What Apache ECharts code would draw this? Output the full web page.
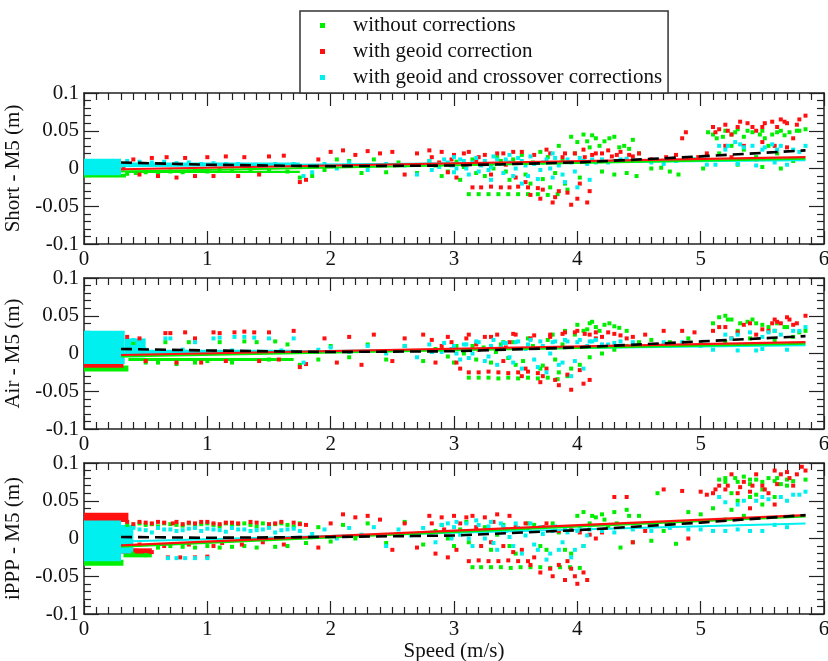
<!DOCTYPE html>
<html>
<head>
<meta charset="utf-8">
<script src="https://cdn.jsdelivr.net/npm/echarts@6/dist/echarts.min.js"></script>
<style>
  html, body { margin: 0; padding: 0; background: #fff; }
  #chart { width: 828px; height: 661px; }
</style>
</head>
<body>
<div id="chart"></div>
<script>
// names
var seriesNames = ['without corrections', 'with geoid correction', 'with geoid and crossover corrections'];
var panelNames = ['Short - M5 (m)', 'Air - M5 (m)', 'iPPP - M5 (m)'];

// ---- Short - M5 ----
var shortGreen = [[0.35,-0.007],[0.42,-0.006],[0.5,-0.005],[0.6,-0.006],[0.7,-0.004],[0.8,-0.005],[0.9,-0.003],[1.0,-0.004],[1.1,-0.002],[1.2,-0.003],[1.35,-0.002],[1.5,-0.003],[1.65,-0.004],[1.75,-0.012],[1.85,-0.01],[1.95,-0.002],[2.05,0.012],[2.15,0.01],[2.25,-0.006],[2.35,0.012],[2.45,-0.005],[2.55,0.008],[2.7,-0.006],[2.8,0.01],[2.9,-0.01],[3.0,0.006],[3.05,-0.015],[3.12,-0.034],[3.2,-0.034],[3.28,-0.034],[3.36,-0.034],[3.44,-0.034],[3.52,-0.034],[3.6,-0.034],[3.68,-0.034],[3.76,-0.035],[3.84,-0.034],[3.15,0.012],[3.25,-0.01],[3.35,0.015],[3.45,-0.015],[3.55,0.018],[3.62,-0.02],[3.7,0.022],[3.78,-0.025],[3.85,0.03],[3.9,-0.02],[3.95,0.042],[4.0,0.035],[4.05,0.045],[4.1,0.028],[4.15,0.04],[4.22,0.036],[4.3,0.042],[4.38,0.03],[4.45,0.038],[4.5,0.02],[4.2,-0.004],[4.3,-0.008],[4.4,-0.006],[4.48,-0.01],[4.6,0.0],[4.68,0.001],[4.75,-0.004],[4.82,-0.008],[4.95,0.012],[5.02,0.0],[5.06,0.048],[5.13,0.04],[5.2,0.05],[5.25,0.045],[5.3,0.052],[5.35,0.042],[5.42,0.048],[5.5,0.05],[5.58,0.045],[5.65,0.05],[5.72,0.048],[5.8,0.05],[5.85,0.052],[5.15,0.02],[5.25,0.03],[5.35,0.025],[5.45,0.015],[5.55,0.03],[5.62,0.02],[5.3,0.005],[5.5,0.002],[5.65,0.0],[5.75,0.01],
  [2.85,0.004],[2.95,-0.004],[3.02,0.009],[3.08,0.002],[3.18,-0.006],[3.22,0.006],[3.32,0.0],[3.38,0.01],[3.42,-0.004],[3.48,0.012],[3.58,-0.008],[3.64,0.008],[3.72,-0.014],[3.76,0.015],[3.82,-0.006],[3.88,0.01],[3.92,-0.028],[3.98,0.02],[4.02,-0.012],[4.08,0.036],[4.12,0.044],[4.18,0.03],[4.26,0.04],[4.34,0.028],[4.42,0.026],[5.1,0.045],[5.18,0.042],[5.28,0.048],[5.38,0.05],[5.48,0.045],[5.52,0.04],[5.62,0.048],[5.68,0.044],[5.78,0.05]];
var shortRed = [[0.32,0.0],[0.4,0.012],[0.45,-0.008],[0.55,0.014],[0.6,-0.01],[0.67,0.015],[0.75,-0.012],[0.82,0.014],[0.9,-0.01],[1.0,0.015],[1.05,-0.01],[1.15,0.016],[1.25,-0.01],[1.3,0.015],[1.42,-0.008],[1.5,0.016],[1.62,0.017],[1.75,-0.018],[1.8,-0.015],[1.9,0.012],[2.0,0.022],[2.1,0.024],[2.2,0.018],[2.3,0.023],[2.4,0.02],[2.5,0.022],[2.6,-0.008],[2.7,0.02],[2.8,0.024],[2.9,0.022],[2.95,-0.005],[3.0,0.018],[3.08,0.02],[3.15,-0.025],[3.22,-0.025],[3.3,-0.024],[3.38,-0.025],[3.45,-0.025],[3.52,-0.024],[3.6,-0.025],[3.68,-0.026],[3.1,0.005],[3.2,0.015],[3.3,-0.008],[3.4,0.02],[3.5,-0.012],[3.55,0.022],[3.62,-0.035],[3.7,-0.04],[3.75,0.025],[3.8,-0.045],[3.85,-0.03],[3.9,0.02],[3.95,-0.048],[4.0,-0.04],[4.05,0.025],[4.08,-0.045],[4.12,0.018],[4.2,0.02],[4.28,0.016],[4.35,0.022],[4.42,0.018],[4.5,0.02],[4.6,0.012],[4.72,0.015],[4.8,0.018],[4.85,0.04],[4.88,0.048],[4.98,0.015],[5.05,0.02],[5.1,0.055],[5.15,0.052],[5.2,0.058],[5.25,0.045],[5.3,0.055],[5.38,0.06],[5.45,0.05],[5.5,0.055],[5.58,0.062],[5.65,0.065],[5.7,0.06],[5.75,0.04],[5.8,0.065],[5.85,0.07],[5.2,0.03],[5.35,0.03],[5.5,0.035],[5.6,0.03],[5.7,0.028],[5.25,0.015],[5.45,0.012],
  [2.82,0.015],[2.88,0.008],[2.98,0.012],[3.02,-0.012],[3.12,0.022],[3.18,0.01],[3.25,0.018],[3.35,0.02],[3.42,0.005],[3.48,0.022],[3.58,-0.018],[3.65,0.018],[3.72,-0.028],[3.78,0.02],[3.82,-0.038],[3.88,0.015],[3.92,-0.032],[3.98,0.02],[4.02,-0.02],[4.06,0.015],[4.1,-0.03],[4.15,0.02],[4.25,0.024],[4.32,0.018],[4.45,0.016],[5.12,0.048],[5.22,0.05],[5.32,0.062],[5.42,0.055],[5.52,0.06],[5.62,0.055],[5.68,0.062],[5.78,0.058]];
var shortCyan = [[0.35,0.01],[0.45,0.009],[0.55,0.008],[0.65,0.009],[0.75,0.007],[0.85,0.008],[0.95,0.006],[1.05,0.007],[1.15,0.006],[1.25,0.006],[1.4,0.005],[1.55,0.006],[1.7,0.006],[1.78,-0.01],[1.85,-0.005],[1.95,0.006],[2.05,0.0],[2.15,0.008],[2.3,-0.002],[2.45,0.006],[2.6,0.004],[2.7,-0.008],[2.8,0.01],[2.88,0.002],[2.95,0.008],[3.0,-0.005],[3.05,0.012],[3.1,0.0],[3.15,0.008],[3.2,-0.004],[3.25,0.01],[3.3,0.002],[3.35,0.012],[3.4,-0.006],[3.45,0.008],[3.5,0.0],[3.55,0.01],[3.6,-0.01],[3.65,0.006],[3.7,-0.002],[3.75,0.012],[3.8,-0.012],[3.85,0.004],[3.9,-0.018],[3.95,0.008],[4.0,-0.025],[4.05,0.01],[4.1,-0.015],[4.15,0.008],[4.2,0.012],[4.3,0.01],[4.4,0.013],[4.5,0.01],[4.6,0.008],[4.7,0.006],[4.8,0.01],[4.95,0.012],[5.05,0.005],[5.15,0.03],[5.2,0.025],[5.28,0.035],[5.35,0.028],[5.42,0.03],[5.5,0.025],[5.58,0.032],[5.65,0.03],[5.75,0.025],[5.85,0.03],[5.12,0.005],[5.3,0.006],[5.45,0.004],[5.6,0.008],[5.7,0.005],[3.3,-0.015],[3.55,-0.02],[3.8,0.02],[3.0,0.015],[3.45,0.018],
  [2.82,-0.002],[2.92,0.012],[2.98,0.004],[3.02,0.0],[3.08,0.01],[3.12,-0.008],[3.18,0.014],[3.22,0.004],[3.28,-0.002],[3.32,0.016],[3.38,0.006],[3.42,0.012],[3.48,-0.01],[3.52,0.014],[3.58,0.004],[3.62,0.016],[3.68,-0.014],[3.72,0.008],[3.78,0.0],[3.82,0.014],[3.88,-0.008],[3.92,0.012],[3.98,-0.004],[4.02,0.014],[4.08,0.006],[4.12,0.012],[4.25,0.008],[4.35,0.012],[4.45,0.01],[5.22,0.03],[5.32,0.032],[5.52,0.028],[5.62,0.025],[5.8,0.022]];
// dense blocks: [x0, x1, y0, y1]
var shortGreenBand = [[0, 0.34, -0.012, -0.007], [0.34, 1.75, -0.006, -0.003]];
var shortRedBand = [[0, 0.3, -0.004, 0.001]];
var shortCyanBand = [[0, 0.3, -0.009, 0.013], [0.3, 1.75, 0.004, 0.008]];
// fitted lines
var shortFitGreen = [[0.3,-0.004],[5.85,0.013]];
var shortFitRed = [[0.3,-0.001],[5.85,0.015]];
var shortFitCyan = [[0.3,0.003],[5.85,0.011]];
var shortFitDashed = [[0.3,0.008],[1,0.005],[2,0.003],[3,0.004],[4,0.008],[5,0.016],[5.85,0.024]];

// ---- Air - M5 ----
var airGreen = [[0.4,0.014],[0.5,-0.012],[0.6,-0.012],[0.66,0.015],[0.75,-0.014],[0.85,0.015],[0.9,-0.012],[1.0,-0.01],[1.1,0.015],[1.2,-0.012],[1.3,0.016],[1.4,0.015],[1.5,-0.008],[1.55,0.016],[1.65,0.012],[1.75,-0.015],[1.9,-0.008],[2.0,0.01],[2.15,-0.005],[2.3,0.012],[2.45,-0.008],[2.6,0.01],[2.75,-0.01],[2.9,0.005],[3.0,-0.012],[3.12,-0.032],[3.2,-0.032],[3.28,-0.032],[3.36,-0.033],[3.44,-0.032],[3.52,-0.033],[3.6,-0.032],[3.68,-0.033],[3.76,-0.032],[3.84,-0.034],[3.15,0.01],[3.3,-0.012],[3.4,0.015],[3.5,-0.015],[3.6,0.02],[3.7,-0.02],[3.8,0.025],[3.85,-0.025],[3.9,0.03],[3.95,-0.02],[4.0,0.038],[4.05,0.03],[4.1,0.04],[4.15,0.035],[4.22,0.038],[4.3,0.036],[4.1,-0.005],[4.2,0.0],[4.3,0.005],[4.4,0.01],[4.5,0.015],[4.6,0.018],[4.75,0.015],[4.9,0.02],[5.0,0.012],[5.1,0.04],[5.2,0.05],[5.25,0.045],[5.3,0.03],[5.38,0.042],[5.45,0.04],[5.55,0.035],[5.6,0.03],[5.7,0.035],[5.8,0.028],[5.85,0.03],[5.2,0.015],[5.4,0.02],[5.6,0.018],[5.75,0.022],
  [2.85,0.006],[2.95,-0.004],[3.02,0.01],[3.08,0.0],[3.18,-0.008],[3.24,0.008],[3.34,0.002],[3.38,0.012],[3.44,-0.006],[3.48,0.015],[3.56,-0.01],[3.64,0.01],[3.72,-0.016],[3.76,0.018],[3.82,-0.008],[3.88,0.012],[3.92,-0.03],[3.98,0.025],[4.02,-0.015],[4.08,0.032],[4.12,0.042],[4.18,0.03],[4.26,0.04],[4.34,0.034],[4.4,0.03],[5.15,0.048],[5.22,0.045],[5.32,0.04],[5.42,0.045],[5.5,0.038],[5.62,0.04],[5.68,0.035]];
var airRed = [[0.35,0.022],[0.45,0.02],[0.5,-0.01],[0.66,0.027],[0.7,0.027],[0.75,-0.012],[0.82,0.028],[0.9,0.02],[0.95,-0.012],[1.05,0.028],[1.1,0.027],[1.15,-0.01],[1.22,0.028],[1.3,0.029],[1.38,0.028],[1.42,-0.01],[1.5,0.028],[1.58,-0.008],[1.7,0.03],[1.75,-0.018],[1.8,-0.014],[1.95,0.02],[2.05,-0.012],[2.15,0.022],[2.25,-0.015],[2.35,0.025],[2.5,-0.01],[2.6,0.02],[2.75,0.025],[2.85,-0.012],[2.95,0.022],[3.05,-0.02],[3.12,-0.025],[3.2,-0.025],[3.28,-0.024],[3.36,-0.025],[3.44,-0.026],[3.52,-0.025],[3.6,-0.024],[3.68,-0.026],[3.1,0.02],[3.2,0.005],[3.3,0.022],[3.4,-0.01],[3.5,0.025],[3.55,-0.03],[3.62,0.02],[3.7,-0.038],[3.78,0.025],[3.85,-0.042],[3.9,0.028],[3.95,-0.048],[4.0,0.03],[4.05,-0.04],[4.1,0.025],[4.15,0.028],[4.2,0.022],[4.3,0.026],[4.4,0.02],[4.55,0.025],[4.7,0.03],[4.85,0.03],[4.95,0.028],[5.1,0.03],[5.2,0.035],[5.3,0.028],[5.4,0.04],[5.5,0.032],[5.6,0.045],[5.65,0.04],[5.7,0.048],[5.75,0.038],[5.85,0.05],[5.25,0.02],[5.45,0.025],[5.55,0.03],[3.45,0.015],[3.75,-0.02],
  [2.82,0.018],[2.9,0.01],[2.98,0.015],[3.02,-0.012],[3.12,0.025],[3.18,0.012],[3.25,0.022],[3.35,0.025],[3.42,0.008],[3.48,0.026],[3.58,-0.02],[3.65,0.024],[3.72,-0.03],[3.78,0.022],[3.82,-0.035],[3.88,0.026],[3.92,-0.028],[3.98,0.028],[4.02,-0.022],[4.06,0.026],[4.1,-0.035],[4.15,0.02],[4.25,0.028],[4.35,0.024],[4.45,0.022],[5.15,0.035],[5.35,0.038],[5.58,0.04],[5.62,0.042],[5.72,0.045],[5.78,0.04]];
var airCyan = [[0.4,0.018],[0.5,0.005],[0.66,0.02],[0.7,0.02],[0.8,0.005],[0.9,0.015],[1.05,0.02],[1.1,0.021],[1.2,0.004],[1.22,0.022],[1.3,0.022],[1.38,0.021],[1.5,0.02],[1.6,0.004],[1.7,0.02],[1.78,-0.012],[1.9,0.005],[2.0,0.008],[2.15,0.002],[2.3,0.01],[2.45,0.0],[2.6,0.01],[2.7,-0.005],[2.8,0.012],[2.9,0.002],[3.0,0.01],[3.05,-0.008],[3.1,0.012],[3.15,0.0],[3.2,0.015],[3.25,-0.01],[3.3,0.01],[3.35,-0.015],[3.4,0.014],[3.45,-0.005],[3.5,0.015],[3.55,-0.02],[3.6,0.012],[3.65,-0.008],[3.7,0.016],[3.75,-0.025],[3.8,0.015],[3.85,-0.015],[3.9,0.018],[3.95,-0.03],[4.0,0.015],[4.05,-0.02],[4.1,0.016],[4.15,0.018],[4.2,0.012],[4.3,0.014],[4.45,0.015],[4.7,0.015],[4.85,0.015],[5.0,0.01],[5.1,0.005],[5.2,0.025],[5.3,0.004],[5.4,0.028],[5.5,0.006],[5.6,0.03],[5.7,0.005],[5.8,0.03],[5.85,0.035],[5.25,0.02],[5.5,0.022],[5.65,0.025],[5.45,0.004],
  [2.82,0.002],[2.92,0.014],[2.98,0.006],[3.02,0.0],[3.08,0.012],[3.12,-0.006],[3.18,0.016],[3.22,0.006],[3.28,-0.004],[3.32,0.018],[3.38,0.008],[3.42,0.014],[3.48,-0.012],[3.52,0.016],[3.58,0.006],[3.62,0.018],[3.68,-0.018],[3.72,0.01],[3.78,0.0],[3.82,0.016],[3.88,-0.012],[3.92,0.016],[3.98,-0.01],[4.02,0.018],[4.08,0.01],[4.12,0.016],[4.25,0.012],[4.35,0.016],[5.3,0.025],[5.55,0.028],[5.75,0.03]];
var airGreenBand = [[0, 0.36, -0.024, -0.016], [0.36, 1.7, -0.01, -0.006]];
var airRedBand = [[0, 0.32, -0.019, -0.013]];
var airCyanBand = [[0, 0.33, -0.014, 0.03], [0.33, 0.5, -0.005, 0.02], [0.5, 1.7, 0.001, 0.005]];
var airFitGreen = [[0.3,-0.004],[5.85,0.013]];
var airFitRed = [[0.3,-0.002],[5.85,0.015]];
var airFitCyan = [[0.3,0.0],[5.85,0.011]];
var airFitDashed = [[0.3,0.006],[1,0.004],[2,0.002],[3,0.003],[4,0.008],[5,0.016],[5.85,0.023]];

// ---- iPPP - M5 ----
var ipppGreen = [[0.35,0.018],[0.45,0.02],[0.55,0.019],[0.65,0.02],[0.75,0.018],[0.85,0.02],[0.95,0.019],[1.05,0.018],[1.15,0.02],[1.25,0.019],[1.35,0.018],[1.45,0.02],[1.55,0.019],[1.65,0.018],[1.75,0.02],[0.4,-0.02],[0.5,-0.022],[0.6,-0.012],[0.7,-0.01],[0.8,-0.011],[0.9,-0.012],[1.0,-0.01],[1.1,-0.012],[1.2,-0.011],[1.3,-0.01],[1.4,-0.012],[1.55,-0.011],[1.65,-0.01],[1.8,-0.006],[1.9,0.015],[2.0,-0.004],[2.1,0.018],[2.2,0.0],[2.3,0.02],[2.45,-0.006],[2.6,0.022],[2.75,-0.008],[2.9,0.018],[3.0,-0.01],[3.1,0.022],[3.15,-0.038],[3.22,-0.038],[3.3,-0.038],[3.38,-0.038],[3.46,-0.039],[3.54,-0.038],[3.62,-0.038],[3.7,-0.038],[3.78,-0.039],[3.86,-0.038],[3.94,-0.038],[4.02,-0.039],[3.2,0.01],[3.3,-0.015],[3.4,0.018],[3.5,-0.02],[3.6,0.02],[3.7,-0.01],[3.8,0.02],[3.9,-0.015],[4.0,0.03],[4.05,0.035],[4.1,0.02],[4.15,0.028],[4.2,0.032],[4.25,0.015],[4.3,0.035],[4.35,-0.012],[4.4,0.038],[4.45,-0.005],[4.5,0.03],[4.6,-0.003],[4.7,0.01],[4.8,-0.007],[4.9,0.035],[5.0,0.032],[5.1,0.04],[5.15,0.078],[5.2,0.08],[5.25,0.038],[5.3,0.075],[5.35,0.082],[5.4,0.072],[5.45,0.078],[5.5,0.065],[5.55,0.08],[5.6,0.076],[5.65,0.072],[5.7,0.078],[5.75,0.076],[5.85,0.078],[5.3,0.05],[5.4,0.055],[5.5,0.045],[5.6,0.055],[5.2,0.025],[4.65,0.06],
  [0.4,0.016],[0.5,0.018],[0.6,0.016],[0.7,0.019],[0.8,0.017],[0.9,0.016],[1.0,0.02],[1.1,0.016],[1.2,0.018],[1.3,0.02],[1.4,0.016],[1.5,0.018],[1.6,0.02],[1.7,0.016],[2.85,0.01],[2.95,0.0],[3.05,0.012],[3.12,-0.005],[3.25,0.015],[3.35,0.005],[3.45,-0.01],[3.55,0.012],[3.65,0.018],[3.75,-0.015],[3.85,0.008],[3.95,-0.02],[4.05,-0.01],[4.12,0.03],[4.22,0.025],[4.32,0.02],[4.42,0.03],[5.2,0.075],[5.28,0.08],[5.4,0.078],[5.5,0.075],[5.62,0.08],[5.7,0.07],[5.25,0.06],[5.45,0.058],[5.35,0.03]];
var ipppRed = [[0.35,0.022],[0.42,-0.016],[0.5,0.021],[0.55,-0.018],[0.6,0.022],[0.68,-0.025],[0.72,0.02],[0.78,-0.025],[0.85,0.021],[0.9,-0.025],[0.95,0.022],[1.0,-0.024],[1.05,0.02],[1.12,-0.006],[1.2,0.021],[1.28,-0.008],[1.35,0.022],[1.45,-0.005],[1.55,0.02],[1.62,-0.008],[1.7,0.021],[1.8,0.018],[1.9,-0.012],[2.0,0.02],[2.1,0.032],[2.2,0.028],[2.3,0.03],[2.4,0.025],[2.5,-0.015],[2.6,0.02],[2.7,-0.012],[2.8,0.03],[2.85,-0.02],[2.9,0.028],[2.95,-0.025],[3.0,0.03],[3.05,0.02],[3.12,-0.03],[3.2,-0.029],[3.28,-0.03],[3.36,-0.03],[3.44,-0.029],[3.52,-0.03],[3.6,-0.03],[3.15,0.03],[3.25,0.028],[3.35,0.032],[3.45,0.03],[3.3,-0.005],[3.4,-0.01],[3.5,0.015],[3.55,-0.015],[3.65,-0.025],[3.7,-0.045],[3.75,0.02],[3.8,-0.05],[3.85,-0.035],[3.9,-0.055],[3.95,-0.04],[4.0,-0.06],[4.05,-0.045],[4.1,0.005],[3.95,0.012],[4.15,0.0],[4.2,0.008],[4.3,0.055],[4.4,0.055],[4.45,-0.005],[4.55,0.01],[4.7,0.065],[4.75,0.02],[4.85,0.063],[4.9,0.0],[5.0,0.062],[5.05,0.058],[5.1,0.06],[5.15,0.07],[5.2,0.065],[5.25,0.085],[5.3,0.06],[5.35,0.075],[5.4,0.062],[5.45,0.085],[5.5,0.07],[5.55,0.06],[5.6,0.09],[5.65,0.085],[5.7,0.088],[5.75,0.07],[5.82,0.095],[5.85,0.09],[5.4,0.04],[5.6,0.045],
  [0.4,0.019],[0.45,0.022],[0.55,0.02],[0.65,0.021],[0.75,0.022],[0.8,0.019],[0.9,0.02],[1.0,0.022],[1.1,0.019],[1.15,0.021],[1.25,0.02],[1.4,0.021],[1.5,0.019],[1.6,0.022],[1.75,0.019],[0.45,-0.008],[0.65,-0.01],[0.85,-0.008],[1.05,-0.01],[2.82,0.02],[2.92,0.012],[3.02,-0.015],[3.1,0.028],[3.18,0.015],[3.22,-0.01],[3.32,0.022],[3.42,0.012],[3.48,-0.018],[3.58,0.02],[3.62,-0.035],[3.72,0.015],[3.78,-0.04],[3.85,0.01],[3.92,-0.03],[3.98,-0.05],[4.02,0.008],[4.08,-0.055],[5.12,0.065],[5.22,0.07],[5.32,0.068],[5.42,0.07],[5.52,0.065],[5.62,0.072],[5.72,0.08],[5.78,0.085]];
var ipppCyan = [[0.35,0.01],[0.45,0.012],[0.55,0.008],[0.65,0.012],[0.68,-0.026],[0.75,0.01],[0.82,-0.026],[0.85,0.013],[0.95,0.01],[1.0,-0.026],[1.05,0.012],[1.15,0.009],[1.25,0.012],[1.35,0.01],[1.45,0.012],[1.55,0.008],[1.65,0.012],[1.75,0.01],[1.85,0.006],[1.95,0.012],[2.05,0.0],[2.15,0.014],[2.25,0.005],[2.35,0.015],[2.45,-0.01],[2.55,0.012],[2.65,0.004],[2.75,0.014],[2.85,-0.005],[2.95,0.02],[3.0,0.015],[3.05,0.005],[3.1,0.02],[3.15,-0.01],[3.2,0.018],[3.25,0.0],[3.3,0.022],[3.35,-0.015],[3.4,0.016],[3.45,0.002],[3.5,0.02],[3.55,-0.02],[3.6,0.012],[3.65,-0.008],[3.7,0.015],[3.75,-0.028],[3.8,0.01],[3.85,-0.015],[3.9,0.014],[3.95,-0.025],[4.0,0.01],[4.05,-0.01],[4.1,0.012],[4.2,0.01],[4.3,0.008],[4.45,0.012],[4.6,0.01],[4.75,0.014],[4.9,0.012],[5.0,0.012],[5.1,0.01],[5.2,0.01],[5.3,0.012],[5.4,0.01],[5.5,0.01],[5.15,0.055],[5.3,0.045],[5.45,0.05],[5.55,0.052],[5.65,0.055],[5.75,0.058],[5.85,0.062],[5.6,0.018],[5.7,0.015],
  [0.4,0.014],[0.5,0.011],[0.6,0.014],[0.7,0.012],[0.8,0.011],[0.9,0.014],[1.0,0.013],[1.1,0.011],[1.2,0.014],[1.3,0.012],[1.4,0.011],[1.5,0.014],[1.6,0.011],[1.7,0.013],[0.75,-0.026],[0.9,-0.026],[2.82,0.008],[2.9,0.018],[2.98,0.0],[3.02,0.022],[3.08,0.01],[3.12,0.0],[3.18,0.024],[3.22,0.008],[3.28,0.016],[3.32,-0.006],[3.38,0.02],[3.42,0.01],[3.48,-0.01],[3.52,0.014],[3.58,0.004],[3.62,0.02],[3.68,-0.015],[3.72,0.006],[3.78,-0.02],[3.82,0.016],[3.88,-0.005],[3.92,0.008],[3.98,-0.015],[4.02,0.016],[4.08,0.004],[5.2,0.048],[5.35,0.05],[5.5,0.055],[5.7,0.05],[5.8,0.058]];
var ipppGreenBand = [[0, 0.32, -0.036, -0.028], [0.32, 0.55, -0.025, -0.018]];
var ipppRedBand = [[0, 0.36, 0.022, 0.034], [0.3, 0.55, -0.02, -0.013]];
var ipppCyanBand = [[0, 0.3, -0.03, 0.024], [0.3, 0.4, -0.02, 0.018]];
var ipppFitGreen = [[0.3,-0.011],[5.85,0.029]];
var ipppFitRed = [[0.3,-0.009],[5.85,0.031]];
var ipppFitCyan = [[0.3,-0.004],[5.85,0.02]];
var ipppFitDashed = [[0.3,0.002],[1,0.001],[2,0.002],[3,0.004],[4,0.011],[5,0.021],[5.85,0.031]];

var GREEN = '#00ee00', RED = '#ff1010', CYAN = '#00f0f0';
var FONT = 'Liberation Serif';
var gridTops = [93, 278, 463];

var chartDom = document.getElementById('chart');
var myChart = echarts.init(chartDom, null, { renderer: 'canvas' });

var renderBand = function (params, api) {
    var p0 = api.coord([api.value(0), api.value(3)]);
    var p1 = api.coord([api.value(1), api.value(2)]);
    return {
        type: 'rect',
        shape: { x: p0[0], y: p0[1], width: p1[0] - p0[0], height: p1[1] - p0[1] },
        style: { fill: api.visual('color') }
    };
};

var frameLine = { show: true, onZero: false, lineStyle: { color: '#222', width: 1.5 } };

var grids = [], xAxes = [], yAxes = [], series = [];

var addPanel = function (i, pts, bands, fits) {
    grids.push({ left: 84, width: 740, top: gridTops[i], height: 151, containLabel: false, outerBoundsMode: 'none' });
    // bottom x axis with labels
    xAxes.push({
        gridIndex: i, type: 'value', min: 0, max: 6, interval: 1, position: 'bottom',
        name: i === 2 ? 'Speed (m/s)' : '', nameLocation: 'middle', nameGap: 27,
        nameTextStyle: { fontFamily: FONT, fontSize: 21, color: '#111' },
        axisLine: frameLine,
        axisTick: { inside: true, length: 13, lineStyle: { color: '#222', width: 1.2 } },
        minorTick: { show: true, splitNumber: 10, length: 7, lineStyle: { color: '#222', width: 1.2 } },
        axisLabel: { fontFamily: FONT, fontSize: 21, color: '#111', margin: 5 },
        splitLine: { show: false }
    });
    yAxes.push({
        gridIndex: i, type: 'value', min: -0.1, max: 0.1, interval: 0.05, position: 'left',
        name: panelNames[i], nameLocation: 'middle', nameGap: 56, nameRotate: 90,
        nameTextStyle: { fontFamily: FONT, fontSize: 21, color: '#111' },
        axisLine: frameLine,
        axisTick: { inside: true, length: 15, lineStyle: { color: '#222', width: 1.2 } },
        minorTick: { show: true, splitNumber: 5, length: 7, lineStyle: { color: '#222', width: 1.2 } },
        axisLabel: { fontFamily: FONT, fontSize: 21, color: '#111', margin: 5 },
        splitLine: { show: false }
    });
    series.push(
        { type: 'custom', name: seriesNames[0], xAxisIndex: i, yAxisIndex: i, data: bands[0], encode: { x: [0, 1], y: [2, 3] }, itemStyle: { color: GREEN }, renderItem: renderBand, clip: true, silent: true, z: 1 },
        { type: 'custom', name: seriesNames[1], xAxisIndex: i, yAxisIndex: i, data: bands[1], encode: { x: [0, 1], y: [2, 3] }, itemStyle: { color: RED }, renderItem: renderBand, clip: true, silent: true, z: 1 },
        { type: 'custom', name: seriesNames[2], xAxisIndex: i, yAxisIndex: i, data: bands[2], encode: { x: [0, 1], y: [2, 3] }, itemStyle: { color: CYAN }, renderItem: renderBand, clip: true, silent: true, z: 1 }
    );
    var cols = [GREEN, RED, CYAN];
    for (var k = 0; k < 3; k++) {
        series.push({
            type: 'scatter', name: seriesNames[k], xAxisIndex: i, yAxisIndex: i,
            symbol: 'rect', symbolSize: 4, data: pts[k],
            itemStyle: { color: cols[k], opacity: 1 }, silent: true, z: 2
        });
    }
    // fitted lines: cyan, green, red, then the black dashed one
    var lineDefs = [[fits[2], CYAN, 'solid', 2], [fits[0], GREEN, 'solid', 2], [fits[1], RED, 'solid', 2.2], [fits[3], '#000', [11, 6], 2.6]];
    lineDefs.forEach(function (d) {
        series.push({
            type: 'line', xAxisIndex: i, yAxisIndex: i, data: d[0], showSymbol: false, symbol: 'none',
            lineStyle: { color: d[1], type: d[2], width: d[3] }, silent: true, z: 3
        });
    });
};

addPanel(0, [shortGreen, shortRed, shortCyan], [shortGreenBand, shortRedBand, shortCyanBand], [shortFitGreen, shortFitRed, shortFitCyan, shortFitDashed]);
addPanel(1, [airGreen, airRed, airCyan], [airGreenBand, airRedBand, airCyanBand], [airFitGreen, airFitRed, airFitCyan, airFitDashed]);
addPanel(2, [ipppGreen, ipppRed, ipppCyan], [ipppGreenBand, ipppRedBand, ipppCyanBand], [ipppFitGreen, ipppFitRed, ipppFitCyan, ipppFitDashed]);

// top and right axes carry only the inward ticks of the frame
for (var g = 0; g < 3; g++) {
    xAxes.push({
        gridIndex: g, type: 'value', min: 0, max: 6, interval: 1, position: 'top',
        axisLine: frameLine,
        axisTick: { inside: true, length: 13, lineStyle: { color: '#222', width: 1.2 } },
        minorTick: { show: true, splitNumber: 10, length: 7, lineStyle: { color: '#222', width: 1.2 } },
        axisLabel: { show: false }, splitLine: { show: false }
    });
    yAxes.push({
        gridIndex: g, type: 'value', min: -0.1, max: 0.1, interval: 0.05, position: 'right',
        axisLine: frameLine,
        axisTick: { inside: true, length: 15, lineStyle: { color: '#222', width: 1.2 } },
        minorTick: { show: true, splitNumber: 5, length: 7, lineStyle: { color: '#222', width: 1.2 } },
        axisLabel: { show: false }, splitLine: { show: false }
    });
}

var option = {
    animation: false,
    backgroundColor: '#fff',
    legend: {
        data: seriesNames,
        orient: 'vertical',
        left: 300, top: 11,
        icon: 'rect', itemWidth: 5, itemHeight: 5, itemGap: 5,
        padding: [4, 6, 5, 20],
        borderColor: '#333', borderWidth: 1.5, backgroundColor: '#fff',
        textStyle: { fontFamily: FONT, fontSize: 21, color: '#111', lineHeight: 21, padding: [0, 0, 0, 23] },
        selectedMode: false,
        z: 10
    },
    grid: grids,
    xAxis: xAxes,
    yAxis: yAxes,
    series: series
};

myChart.setOption(option);
</script>
</body>
</html>
